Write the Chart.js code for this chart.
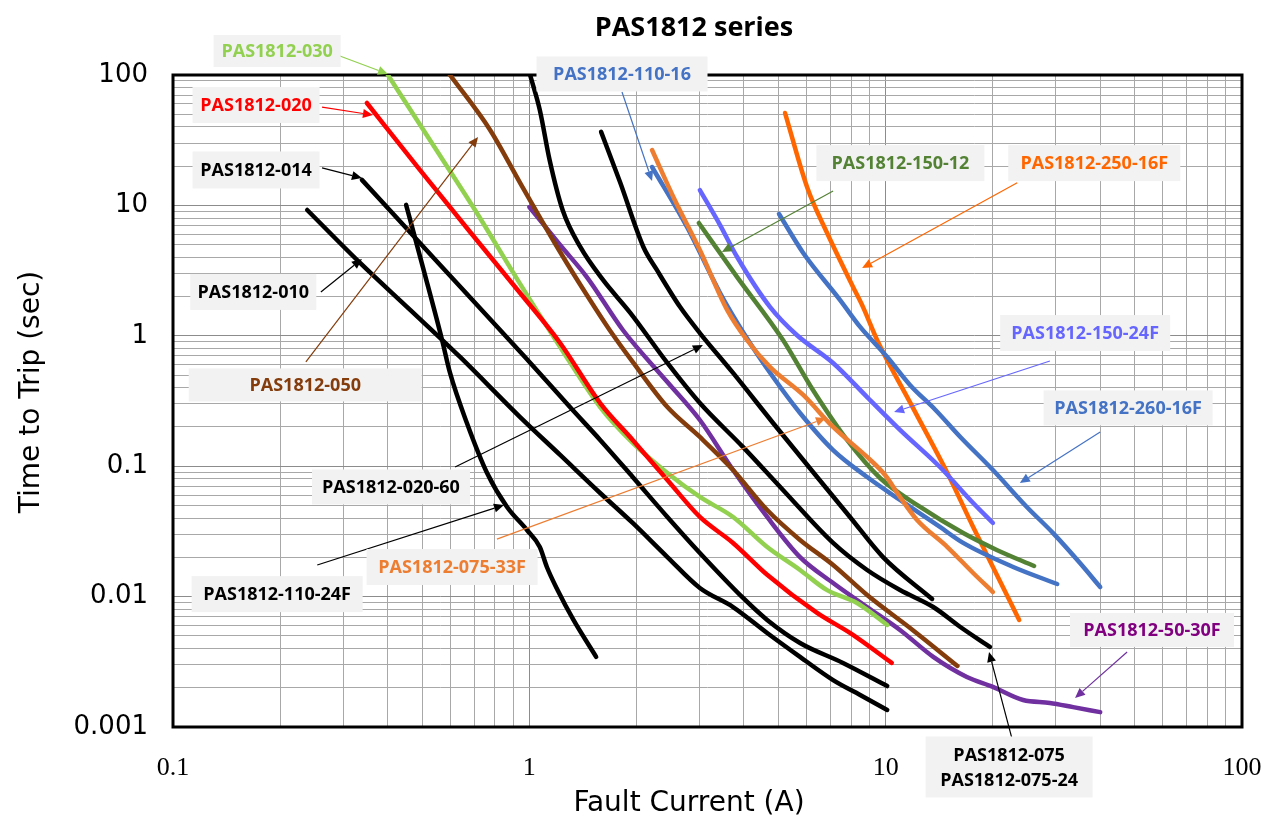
<!DOCTYPE html>
<html>
<head>
<meta charset="utf-8">
<title>PAS1812 series</title>
<script src="https://cdn.jsdelivr.net/npm/chart.js@4.4.1/dist/chart.umd.min.js"></script>
<style>
  html, body { margin: 0; padding: 0; background: #fff; }
</style>
</head>
<body>
<canvas id="myChart" width="1268" height="823"></canvas>
<script>
// axis tick labels (decades)
const xTickLabels = [0.1, 1, 10, 100];
const yTickLabels = [0.001, 0.01, 0.1, 1, 10, 100];

// fault current (A) / time to trip (s)
const pas030I = [0.401, 0.526, 0.704, 0.942, 1.22, 1.58, 1.95, 2.44, 3.01, 3.73, 4.65, 5.75, 6.85, 8.31, 10.1];
const pas030T = [100, 31.7, 9.22, 2.50, 0.821, 0.284, 0.151, 0.0887, 0.0581, 0.0408, 0.0240, 0.0160, 0.0112, 0.00893, 0.00606];

const pas020I = [0.350, 0.493, 0.682, 0.942, 1.22, 1.58, 1.95, 2.44, 3.01, 3.73, 4.65, 6.42, 7.94, 10.4];
const pas020T = [61.0, 18.7, 6.25, 2.13, 0.881, 0.305, 0.159, 0.0784, 0.0408, 0.0258, 0.0147, 0.00749, 0.00526, 0.00310];

const pas050I = [0.599, 0.776, 0.942, 1.22, 1.48, 1.68, 1.95, 2.44, 3.01, 3.73, 4.65, 5.75, 7.12, 8.87, 11.9, 15.9];
const pas050T = [100, 37.9, 14.9, 4.39, 1.88, 1.108, 0.630, 0.284, 0.1675, 0.0935, 0.0461, 0.0272, 0.01747, 0.01028, 0.00555, 0.00294];

const pas5030I = [1.00, 1.22, 1.45, 1.83, 2.44, 3.01, 3.73, 4.65, 5.75, 7.12, 8.87, 10.97, 13.6, 16.9, 20.0, 24.3, 28.9, 33.6, 40.0];
const pas5030T = [9.72, 4.97, 2.82, 1.108, 0.442, 0.226, 0.0935, 0.0408, 0.0201, 0.01272, 0.00832, 0.00555, 0.00345, 0.00242, 0.00203, 0.00161, 0.00153, 0.00142, 0.00130];

const pas075I = [1.005, 1.07, 1.14, 1.24, 1.39, 1.61, 1.92, 2.44, 3.01, 3.98, 5.15, 7.12, 8.87, 10.97, 13.6, 16.2, 19.6];
const pas075T = [100, 53.9, 22.3, 9.22, 4.80, 2.68, 1.50, 0.619, 0.305, 0.140, 0.0657, 0.0258, 0.0160, 0.01124, 0.00832, 0.00585, 0.00411];

const pas02060I = [1.59, 1.80, 2.09, 2.28, 2.65, 3.01, 3.73, 4.83, 6.42, 7.94, 9.83, 13.5];
const pas02060T = [36.6, 14.9, 4.80, 3.20, 1.66, 1.05, 0.519, 0.2145, 0.0826, 0.0408, 0.0201, 0.00959];

const pas014I = [0.339, 0.562, 0.972, 1.30, 1.58, 1.95, 2.44, 3.01, 3.98, 4.65, 5.75, 7.59, 10.1];
const pas014T = [15.7, 3.49, 0.688, 0.284, 0.159, 0.0826, 0.0408, 0.0216, 0.00976, 0.00662, 0.00441, 0.00310, 0.00206];

const pas010I = [0.238, 0.335, 0.463, 0.639, 0.942, 1.22, 1.58, 1.95, 2.44, 3.01, 3.73, 4.65, 5.75, 7.12, 8.48, 10.1];
const pas010T = [9.22, 3.62, 1.58, 0.688, 0.238, 0.122, 0.0623, 0.0367, 0.0201, 0.01164, 0.00832, 0.00526, 0.00345, 0.00229, 0.00176, 0.00135];

const pas11024FI = [0.451, 0.507, 0.569, 0.599, 0.668, 0.761, 0.866, 0.985, 1.07, 1.12, 1.20, 1.33, 1.54];
const pas11024FT = [10.1, 3.08, 0.929, 0.519, 0.2145, 0.0887, 0.0487, 0.0324, 0.0240, 0.01687, 0.01124, 0.00662, 0.00345];

const pas07533FI = [2.21, 2.56, 3.01, 3.59, 4.08, 4.74, 5.87, 7.12, 8.87, 9.96, 10.97, 12.25, 14.9, 17.6, 20.0];
const pas07533FT = [26.6, 11.0, 4.55, 1.58, 0.929, 0.576, 0.352, 0.200, 0.1177, 0.0856, 0.0581, 0.0387, 0.0240, 0.01517, 0.01084];

const pas11016I = [2.21, 2.77, 3.43, 4.03, 4.83, 5.75, 7.12, 8.87, 10.97, 14.2, 16.5, 22.8, 30.3];
const pas11016T = [19.7, 6.83, 2.13, 1.01, 0.483, 0.256, 0.133, 0.0826, 0.0551, 0.0342, 0.0258, 0.01687, 0.01249];

const pas15012I = [2.99, 3.83, 5.15, 6.25, 7.79, 9.64, 12.5, 16.5, 20.5, 26.1];
const pas15012T = [7.33, 2.82, 0.929, 0.384, 0.159, 0.0812, 0.0487, 0.0307, 0.0228, 0.01717];

const pas15024FI = [3.01, 3.43, 3.83, 4.74, 5.64, 7.12, 8.87, 10.97, 14.2, 17.6, 20.0];
const pas15024FT = [13.1, 7.07, 4.02, 1.66, 1.01, 0.619, 0.339, 0.190, 0.0986, 0.0522, 0.0367];

const pas26016FI = [5.02, 5.87, 7.45, 8.48, 10.1, 11.7, 13.8, 16.2, 20.0, 24.9, 29.5, 35.1, 40.0];
const pas26016FT = [8.59, 4.32, 1.88, 1.17, 0.688, 0.420, 0.270, 0.1675, 0.0935, 0.0487, 0.0307, 0.0181, 0.01185];

const pas25016FI = [5.22, 6.02, 6.85, 8.10, 8.64, 9.46, 11.9, 14.9, 17.6, 20.0, 23.7];
const pas25016FT = [51.1, 13.8, 6.14, 2.37, 1.66, 0.929, 0.284, 0.0887, 0.0342, 0.01687, 0.00662];

// callouts: label position, arrow start and arrow tip, all in data units
const notes = [
  { text: ['PAS1812-030'], color: '#92D050', at: [0.196, 152.8], from: [0.294, 140], to: [0.401, 101.8], w: 127, h: 32 },
  { text: ['PAS1812-020'], color: '#FF0000', at: [0.171, 58.9], from: [0.262, 56.8], to: [0.364, 49.3], w: 127, h: 36 },
  { text: ['PAS1812-014'], color: '#000000', at: [0.171, 18.7], from: [0.262, 19.4], to: [0.339, 16.2], w: 127, h: 37 },
  { text: ['PAS1812-010'], color: '#000000', at: [0.168, 2.17], from: [0.260, 2.17], to: [0.339, 3.88], w: 126, h: 36 },
  { text: ['PAS1812-050'], color: '#843C0C', at: [0.235, 0.420], from: [0.236, 0.630], to: [0.718, 33.5], w: 233, h: 33 },
  { text: ['PAS1812-020-60'], color: '#000000', at: [0.409, 0.0693], from: [0.619, 0.0986], to: [3.07, 0.850], w: 158, h: 35 },
  { text: ['PAS1812-110-24F'], color: '#000000', at: [0.196, 0.01045], from: [0.254, 0.01747], to: [0.849, 0.0504], w: 171, h: 36 },
  { text: ['PAS1812-075-33F'], color: '#ED7D31', at: [0.607, 0.01687], from: [0.811, 0.0276], to: [6.80, 0.234], w: 171, h: 36 },
  { text: ['PAS1812-110-16'], color: '#4472C4', at: [1.82, 101.8], from: [1.82, 74.1], to: [2.21, 15.4], w: 171, h: 35 },
  { text: ['PAS1812-150-12'], color: '#548235', at: [11.0, 21.1], from: [7.12, 12.9], to: [3.47, 4.39], w: 168, h: 36 },
  { text: ['PAS1812-250-16F'], color: '#FF6600', at: [38.5, 21.1], from: [23.4, 14.9], to: [8.59, 3.31], w: 172, h: 36 },
  { text: ['PAS1812-150-24F'], color: '#6666FF', at: [36.3, 1.05], from: [28.9, 0.641], to: [10.56, 0.260], w: 170, h: 36 },
  { text: ['PAS1812-260-16F'], color: '#4472C4', at: [47.9, 0.280], from: [40.0, 0.183], to: [23.8, 0.0743], w: 169, h: 35 },
  { text: ['PAS1812-50-30F'], color: '#800080', arrow: '#7030A0', at: [55.9, 0.00555], from: [47.6, 0.00376], to: [34.0, 0.00167], w: 164, h: 34 },
  { text: ['PAS1812-075', 'PAS1812-075-24'], color: '#000000', at: [22.2, 0.000494], from: [22.6, 0.000823], to: [19.5, 0.00376], w: 167, h: 61 }
];

function pts(xs, ys) {
  return xs.map((v, i) => ({ x: v, y: ys[i] }));
}

function decadeTicks(labels) {
  const out = [];
  for (let i = 0; i < labels.length - 1; i++) {
    for (let k = 1; k <= 9; k++) out.push({ value: labels[i] * k, major: k === 1 });
  }
  out.push({ value: labels[labels.length - 1], major: true });
  return out;
}

const series = [
  { label: 'PAS1812-110-24F', color: '#000000', data: pts(pas11024FI, pas11024FT) },
  { label: 'PAS1812-010', color: '#000000', data: pts(pas010I, pas010T) },
  { label: 'PAS1812-014', color: '#000000', data: pts(pas014I, pas014T) },
  { label: 'PAS1812-020', color: '#FF0000', data: pts(pas020I, pas020T) },
  { label: 'PAS1812-030', color: '#92D050', data: pts(pas030I, pas030T) },
  { label: 'PAS1812-050', color: '#843C0C', data: pts(pas050I, pas050T) },
  { label: 'PAS1812-50-30F', color: '#7030A0', data: pts(pas5030I, pas5030T) },
  { label: 'PAS1812-075', color: '#000000', data: pts(pas075I, pas075T) },
  { label: 'PAS1812-020-60', color: '#000000', data: pts(pas02060I, pas02060T) },
  { label: 'PAS1812-075-33F', color: '#ED7D31', data: pts(pas07533FI, pas07533FT) },
  { label: 'PAS1812-110-16', color: '#4472C4', data: pts(pas11016I, pas11016T) },
  { label: 'PAS1812-150-12', color: '#548235', data: pts(pas15012I, pas15012T) },
  { label: 'PAS1812-150-24F', color: '#6666FF', data: pts(pas15024FI, pas15024FT) },
  { label: 'PAS1812-260-16F', color: '#4472C4', data: pts(pas26016FI, pas26016FT) },
  { label: 'PAS1812-250-16F', color: '#FF6600', data: pts(pas25016FI, pas25016FT) }
];

// frame around the plot area
const frame = {
  id: 'frame',
  beforeDatasetsDraw(chart) {
    const { ctx, chartArea: a } = chart;
    ctx.save();
    ctx.strokeStyle = '#000';
    ctx.lineWidth = 3;
    ctx.strokeRect(a.left, a.top, a.right - a.left, a.bottom - a.top);
    ctx.restore();
  }
};

// titles
const titles = {
  id: 'titles',
  afterDraw(chart) {
    const { ctx } = chart;
    ctx.save();
    ctx.fillStyle = '#000';
    ctx.textAlign = 'center';
    ctx.textBaseline = 'middle';
    ctx.font = 'bold 27px "Open Sans"';
    ctx.fillText('PAS1812 series', 694, 28);
    ctx.font = '28px "DejaVu Sans"';
    ctx.fillText('Fault Current (A)', 689, 804);
    ctx.translate(32, 392);
    ctx.rotate(-Math.PI / 2);
    ctx.fillText('Time to Trip (sec)', 0, 0);
    ctx.restore();
  }
};

// callout boxes and arrows
const callouts = {
  id: 'callouts',
  afterDatasetsDraw(chart) {
    const { ctx } = chart;
    const sx = chart.scales.x, sy = chart.scales.y;
    ctx.save();
    notes.forEach(n => {
      const x0 = sx.getPixelForValue(n.from[0]), y0 = sy.getPixelForValue(n.from[1]);
      const x1 = sx.getPixelForValue(n.to[0]), y1 = sy.getPixelForValue(n.to[1]);
      const col = n.arrow || n.color;
      ctx.strokeStyle = col;
      ctx.fillStyle = col;
      ctx.lineWidth = 1.2;
      const ang = Math.atan2(y1 - y0, x1 - x0);
      const hl = 10, hw = 4.5;
      const bx = x1 - hl * Math.cos(ang), by = y1 - hl * Math.sin(ang);
      ctx.beginPath();
      ctx.moveTo(x0, y0);
      ctx.lineTo(bx, by);
      ctx.stroke();
      ctx.beginPath();
      ctx.moveTo(x1, y1);
      ctx.lineTo(bx - hw * Math.sin(ang), by + hw * Math.cos(ang));
      ctx.lineTo(bx + hw * Math.sin(ang), by - hw * Math.cos(ang));
      ctx.closePath();
      ctx.fill();

      const cx = sx.getPixelForValue(n.at[0]), cy = sy.getPixelForValue(n.at[1]);
      ctx.fillStyle = '#F2F2F2';
      ctx.fillRect(cx - n.w / 2, cy - n.h / 2, n.w, n.h);
      ctx.fillStyle = n.color;
      ctx.font = 'bold 18px "Open Sans"';
      ctx.textAlign = 'center';
      ctx.textBaseline = 'middle';
      const lh = 25;
      n.text.forEach((t, i) => {
        ctx.fillText(t, cx, cy + (i - (n.text.length - 1) / 2) * lh + 1);
      });
    });
    ctx.restore();
  }
};

function gridColor(c) {
  return c.tick && c.tick.major ? '#8C8C8C' : '#A8A8A8';
}

new Chart(document.getElementById('myChart'), {
  type: 'line',
  data: {
    datasets: series.map(s => ({
      label: s.label,
      data: s.data,
      borderColor: s.color,
      backgroundColor: s.color,
      fill: false
    }))
  },
  options: {
    responsive: false,
    animation: false,
    devicePixelRatio: 1,
    layout: { padding: { top: 75, right: 26, left: 0, bottom: 0 } },
    plugins: {
      legend: { display: false },
      title: { display: false },
      tooltip: { enabled: false }
    },
    elements: {
      point: { radius: 0, hoverRadius: 0 },
      line: { borderWidth: 4.5, cubicInterpolationMode: 'monotone', borderCapStyle: 'round', borderJoinStyle: 'round' }
    },
    scales: {
      x: {
        type: 'logarithmic',
        min: 0.1,
        max: 100,
        afterBuildTicks: s => { s.ticks = decadeTicks(xTickLabels); },
        afterFit: s => { s.height = 96; s.paddingLeft = 0; s.paddingRight = 0; },
        border: { display: false },
        grid: { color: gridColor, lineWidth: 1, drawTicks: false },
        ticks: {
          autoSkip: false,
          maxRotation: 0,
          padding: 26,
          color: '#000',
          font: { family: '"Liberation Serif"', size: 26 },
          callback: v => xTickLabels.includes(v) ? String(v) : ''
        }
      },
      y: {
        type: 'logarithmic',
        min: 0.001,
        max: 100,
        afterBuildTicks: s => { s.ticks = decadeTicks(yTickLabels); },
        afterFit: s => { s.width = 173; s.paddingTop = 0; s.paddingBottom = 0; },
        border: { display: false },
        grid: { color: gridColor, lineWidth: 1, drawTicks: false },
        ticks: {
          autoSkip: false,
          padding: 25,
          color: '#000',
          font: { family: '"DejaVu Sans"', size: 26 },
          callback: v => yTickLabels.includes(v) ? String(v) : ''
        }
      }
    }
  },
  plugins: [frame, callouts, titles]
});
</script>
</body>
</html>
